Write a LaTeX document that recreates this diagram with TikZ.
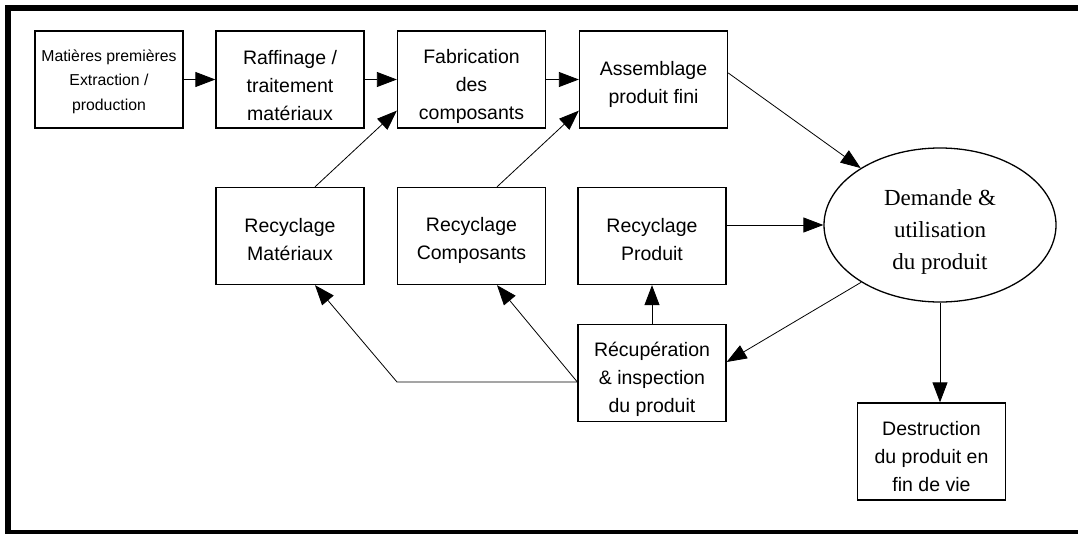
\documentclass[tikz,border=0pt]{standalone}
\usepackage{fontspec}
\setmainfont{Liberation Sans}
\newfontfamily\serifface{Liberation Serif}
\usetikzlibrary{arrows.meta,shapes.geometric,calc}
\tikzset{
  boxnode/.style={draw, line width=1.3pt, rectangle, minimum width=148pt, minimum height=97pt, inner sep=0pt},
  txt/.style={align=center, inner sep=0pt, font=\fontsize{19.5}{28}\selectfont},
  arr/.style={line width=0.8pt, -{Triangle[length=20pt,width=15pt]}},
}
\begin{document}
\begin{tikzpicture}[x=1pt,y=-1pt]
\useasboundingbox (0,0) rectangle (1078,533);
\begin{scope}
\clip (0,0) rectangle (1078,533);
\draw[line width=6pt] (8,8) rectangle (1100,533);
\end{scope}
% top row
\node[boxnode] (b1) at (109,79.5) {};
\node[txt, font=\fontsize{15.8}{24.5}\selectfont] (b1t) at ($(b1.center)+(0,2)$) {Matières premières\\Extraction /\\production};
\node[boxnode] (b2) at (290,79.5) {};
\node[txt] (b2t) at ($(b2.center)+(0,6.5)$) {Raffinage /\\traitement\\matériaux};
\node[boxnode] (b3) at (471.5,79.5) {};
\node[txt] (b3t) at ($(b3.center)+(0,6.5)$) {Fabrication\\des\\composants};
\node[boxnode] (b4) at (653.5,79.5) {};
\node[txt] (b4t) at ($(b4.center)+(0,4.5)$) {Assemblage\\produit fini};
% middle row
\node[boxnode] (rm) at (290,236) {};
\node[txt] (rmt) at ($(rm.center)+(0,4)$) {Recyclage\\Matériaux};
\node[boxnode] (rc) at (471.5,236) {};
\node[txt] (rct) at ($(rc.center)+(0,4)$) {Recyclage\\Composants};
\node[boxnode] (rp) at (652,236) {};
\node[txt] (rpt) at ($(rp.center)+(0,4)$) {Recyclage\\Produit};
% bottom
\node[boxnode] (rec) at (652,373) {};
\node[txt] (rect) at ($(rec.center)+(0,6.5)$) {Récupération\\\& inspection\\du produit};
\node[boxnode] (dest) at (931.5,451.5) {};
\node[txt] (destt) at ($(dest.center)+(0,5.5)$) {Destruction\\du produit en\\fin de vie};
% ellipse
\node[draw, ellipse, line width=1.3pt, minimum width=232pt, minimum height=154pt, inner sep=0pt] (dem) at (940,225) {};
\node[txt, font=\serifface\fontsize{23}{32}\selectfont] (demt) at ($(dem.center)+(0,7)$) {Demande \&\\utilisation\\du produit};
% connectors
\draw[arr] (b1) -- (b2);
\draw[arr] (b2) -- (b3);
\draw[arr] (b3) -- (b4);
\draw[arr] ($(b4.east)!0.134!(b4.north east)$) -- (dem);
\draw[arr] (rp.east |- dem.west) -- (dem.west);
\draw[arr] (dem.216) -- ($(rec.east)+(0,-11)$);
\draw[arr] (dem.south) -- (dem.south |- dest.north);
\draw[arr] ($(rm.north)+(25,0)$) -- ($(b3.south west)+(0,-18)$);
\draw[arr] ($(rc.north)+(25.5,0)$) -- ($(b4.south west)+(0,-18)$);
\draw[arr] (rec.north) -- (rp.south);
\coordinate (bend) at (397,382);
\draw[arr] ($(rec.west)+(0,9)$) -- (bend) -- ($(rm.south)+(25,0)$);
\draw[arr] ($(rec.west)+(0,9)$) -- ($(rc.south)+(25.5,0)$);
\end{tikzpicture}
\end{document}
